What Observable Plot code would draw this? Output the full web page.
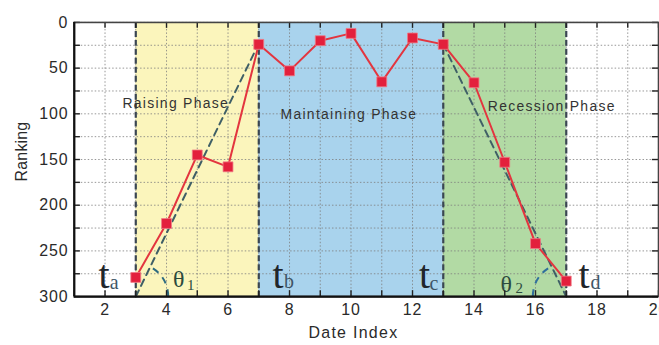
<!DOCTYPE html>
<html>
<head>
<meta charset="utf-8">
<script src="https://cdn.jsdelivr.net/npm/d3@7"></script>
<script src="https://cdn.jsdelivr.net/npm/@observablehq/plot@0.6"></script>
<style>
  html, body { margin: 0; padding: 0; background: #fff; }
  #chart { width: 659px; height: 345px; overflow: hidden; }
</style>
</head>
<body>
<div id="chart"></div>
<script>
// ---- data ----
const dateIndex = [3, 4, 5, 6, 7, 8, 9, 10, 11, 12, 13, 14, 15, 16, 17];
const ranking   = [279, 220, 145, 158, 24, 53, 20, 12, 65, 17, 24, 66, 153, 242, 283];

const phaseNames  = ["Raising Phase", "Maintaining Phase", "Recession Phase"];
const phaseStart  = [3, 7, 13];
const phaseEnd    = [7, 13, 17];
const phaseColors = ["#fbf5bc", "#a9d3ed", "#b2daa4"];
const phaseLabelX = [4.3, 9.93, 16.53];
const phaseLabelY = [89, 101, 92];

const boundaries = [3, 7, 13, 17];
const riseTrendX = [3, 7];
const riseTrendY = [300, 23];
const fallTrendX = [13, 17];
const fallTrendY = [24, 300];

const xTicks = [2, 4, 6, 8, 10, 12, 14, 16, 18, 20];
const yTicks = [0, 50, 100, 150, 200, 250, 300];
const xMinor = [1, 2, 3, 4, 5, 6, 7, 8, 9, 10, 11, 12, 13, 14, 15, 16, 17, 18, 19, 20];
const yMinor = [0, 25, 50, 75, 100, 125, 150, 175, 200, 225, 250, 275, 300];

// annotation labels (big serif letter + subscript)
const mainLabels = ["t", "t", "t", "t"];
const mainX      = [1.97, 7.63, 12.39, 17.58];
const mainY      = [277, 277, 277, 277];
const subLabels  = ["a", "b", "c", "d"];
const subX       = [2.3, 7.98, 12.7, 17.95];
const subY       = [285, 284, 286, 285];
const thetaLabels = ["θ", "θ"];
const thetaX      = [4.40, 15.05];
const thetaY      = [281, 287];
const thetaSub    = ["1", "2"];
const thetaSubX   = [4.79, 15.47];
const thetaSubY   = [287, 291];

// ---- tables ----
const points = dateIndex.map((x, i) => ({x, y: ranking[i]}));
const phases = phaseNames.map((name, i) => ({name, x1: phaseStart[i], x2: phaseEnd[i], color: phaseColors[i], lx: phaseLabelX[i], ly: phaseLabelY[i]}));
const rise = riseTrendX.map((x, i) => ({x, y: riseTrendY[i]}));
const fall = fallTrendX.map((x, i) => ({x, y: fallTrendY[i]}));
const mains = mainLabels.map((t, i) => ({t, x: mainX[i], y: mainY[i]}));
const subs = subLabels.map((t, i) => ({t, x: subX[i], y: subY[i]}));
const thetas = thetaLabels.map((t, i) => ({t, x: thetaX[i], y: thetaY[i]}));
const thetaSubs = thetaSub.map((t, i) => ({t, x: thetaSubX[i], y: thetaSubY[i]}));

// angle arc drawn with the plot's own scales
function angleArc(cx, cy, ox, oy, radius, color) {
  return (index, scales) => {
    const X = scales.x, Y = scales.y;
    const px = X(cx), py = Y(cy);
    const qx = X(ox), qy = Y(oy);
    const lineAng = Math.atan2(qy - py, qx - px);
    const baseAng = qx > px ? 0 : Math.PI;
    let delta = lineAng - baseAng;
    while (delta > Math.PI) delta -= 2 * Math.PI;
    while (delta <= -Math.PI) delta += 2 * Math.PI;
    const sx = px + radius * Math.cos(baseAng), sy = py + radius * Math.sin(baseAng);
    const ex = px + radius * Math.cos(baseAng + delta), ey = py + radius * Math.sin(baseAng + delta);
    const p = document.createElementNS("http://www.w3.org/2000/svg", "path");
    p.setAttribute("d", `M${sx},${sy}A${radius},${radius} 0 0 ${delta > 0 ? 1 : 0} ${ex},${ey}`);
    p.setAttribute("fill", "none");
    p.setAttribute("stroke", color);
    p.setAttribute("stroke-width", 2);
    p.setAttribute("stroke-dasharray", "7,6");
    return p;
  };
}

const serif = "Liberation Serif, Times New Roman, serif";
const sans = "Liberation Sans, Arial, sans-serif";

const chart = Plot.plot({
  width: 661,
  height: 345,
  marginLeft: 74,
  marginRight: 1,
  marginTop: 22,
  marginBottom: 48,
  style: {fontFamily: sans, fontSize: "16px", color: "#2a2a2a", background: "#fff"},
  x: {domain: [1, 20], ticks: xTicks, tickSize: 0, tickPadding: 7, label: null},
  y: {domain: [0, 300], reverse: true, ticks: yTicks, tickSize: 0, tickPadding: 6, label: null},
  marks: [
    Plot.rect(phases, {x1: "x1", x2: "x2", y1: 0, y2: 300, fill: "color"}),
    Plot.ruleX(xMinor, {stroke: "#7d7d7d", strokeWidth: 0.8, strokeDasharray: "1.5,2"}),
    Plot.ruleY(yMinor, {stroke: "#7d7d7d", strokeWidth: 0.8, strokeDasharray: "1.5,2"}),
    Plot.ruleX(boundaries, {stroke: "#3a4652", strokeWidth: 2.2, strokeDasharray: "6,3"}),
    Plot.line(rise, {x: "x", y: "y", stroke: "#3f5f66", strokeWidth: 2, strokeDasharray: "7,5"}),
    Plot.line(fall, {x: "x", y: "y", stroke: "#3f5f66", strokeWidth: 2, strokeDasharray: "7,5"}),
    angleArc(riseTrendX[0], riseTrendY[0], riseTrendX[1], riseTrendY[1], 33, "#2c6a80"),
    angleArc(fallTrendX[1], fallTrendY[1], fallTrendX[0], fallTrendY[0], 33, "#2f6f9c"),
    Plot.line(points, {x: "x", y: "y", stroke: "#e3353f", strokeWidth: 2}),
    Plot.dot(points, {x: "x", y: "y", symbol: "square", r: 5.6, fill: "#e3203c", stroke: "#f07a85", strokeWidth: 0.8}),
    Plot.text(phases, {x: "lx", y: "ly", text: "name", fontSize: 14, fill: "#333", fontFamily: sans}),
    Plot.text(mains, {x: "x", y: "y", text: "t", fontSize: 40, fill: "#1f262b", fontFamily: serif}),
    Plot.text(subs, {x: "x", y: "y", text: "t", fontSize: 20, fill: "#3e5566", fontFamily: serif}),
    Plot.text(thetas, {x: "x", y: "y", text: "t", fontSize: 24, fill: "#2c4a3e", fontFamily: serif}),
    Plot.text(thetaSubs, {x: "x", y: "y", text: "t", fontSize: 15, fill: "#2c4a3e", fontFamily: serif}),
    Plot.ruleX(xMinor, {y1: 0, y2: 6.5, stroke: "#222", strokeWidth: 1.4}),
    Plot.ruleX(xMinor, {y1: 300, y2: 293.5, stroke: "#222", strokeWidth: 1.4}),
    Plot.ruleY(yMinor, {x1: 1, x2: 1.2, stroke: "#222", strokeWidth: 1.4}),
    Plot.ruleY(yMinor, {x1: 20, x2: 19.8, stroke: "#222", strokeWidth: 1.4}),
    Plot.frame({stroke: "#444", strokeWidth: 1.6}),
    Plot.ruleX([1], {stroke: "#111", strokeWidth: 2.2}),
    Plot.ruleY([300], {stroke: "#111", strokeWidth: 2.2}),
    Plot.text(["Ranking"], {frameAnchor: "left", dx: -53, dy: 22, rotate: -90, fontSize: 16, fill: "#2a2a2a", fontFamily: sans}),
    Plot.text(["Date Index"], {frameAnchor: "bottom", dx: -13, dy: 42, fontSize: 16, fill: "#2a2a2a", fontFamily: sans})
  ]
});

document.getElementById("chart").appendChild(chart);

// slight letter spacing to match the wide rendering of the original
d3.select(chart).selectAll("text").each(function () {
  const ff = getComputedStyle(this).fontFamily || "";
  if (/Serif/i.test(ff) && !/Sans/i.test(ff)) return;
  const txt = this.textContent;
  if (phaseNames.includes(txt) || txt === "Date Index") this.style.letterSpacing = "1.3px";
  else if (txt === "Ranking") this.style.letterSpacing = "0.2px";
  else this.style.letterSpacing = "0.8px";
});
</script>
</body>
</html>
